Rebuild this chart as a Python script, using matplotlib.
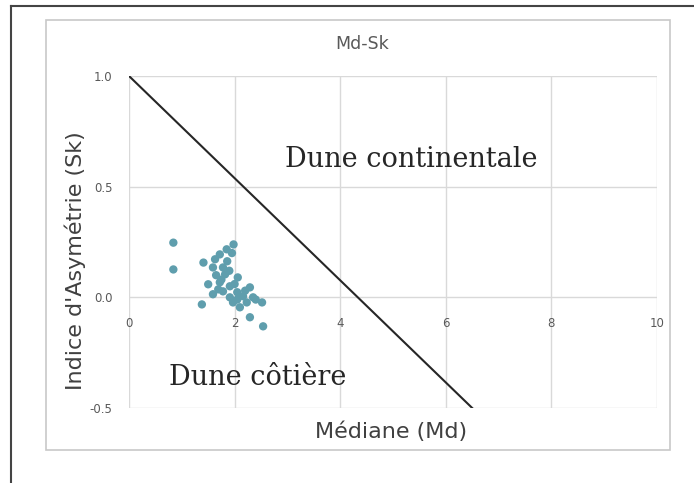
import matplotlib.pyplot as plt
from matplotlib.patches import Rectangle
from matplotlib.lines import Line2D

# Md / Sk values
md = [0.84, 0.84, 1.98, 1.85, 1.72, 1.63, 1.41, 1.59, 1.78, 1.82, 2.06, 1.50,
      1.72, 1.91, 2.29, 1.59, 1.78, 2.05, 2.16, 2.35, 1.38, 1.97, 2.23, 2.52,
      2.10, 2.29, 2.54, 1.91, 1.69, 1.86, 1.95, 1.75, 2.00, 2.20, 1.65, 2.40,
      2.05, 1.90]
sk = [0.247, 0.126, 0.239, 0.217, 0.194, 0.172, 0.157, 0.135, 0.135, 0.104,
      0.090, 0.059, 0.068, 0.050, 0.045, 0.014, 0.027, 0.023, 0.005, 0.000,
      -0.032, -0.023, -0.023, -0.023, -0.045, -0.090, -0.131, 0.000, 0.036,
      0.163, 0.200, 0.080, 0.060, 0.030, 0.100, -0.010, -0.010, 0.120]

# limit line between the two fields
line_x = [0, 6.5]
line_y = [1.0, -0.5]

fig = plt.figure(figsize=(6.94, 4.83), dpi=100)
W, H = 694, 483

# screenshot border + chart box
fig.add_artist(Line2D([11/W, 11/W], [0, 1-6/H], color='#444444', lw=1.5))
fig.add_artist(Line2D([11/W, 1], [1-6/H, 1-6/H], color='#444444', lw=1.5))
fig.add_artist(Rectangle((46/W, 1-450/H), (670-46)/W, (450-20)/H,
                         fill=False, ec='#c8c8c8', lw=1.2))

ax = fig.add_axes([129/W, 1-408/H, (657-129)/W, (408-76)/H])
ax.set_xlim(0, 10)
ax.set_ylim(-0.5, 1.0)
ax.set_xticks([0, 2, 4, 6, 8, 10])
ax.set_yticks([-0.5, 0.0, 0.5, 1.0])
ax.set_yticklabels(['-0.5', '0.0', '0.5', '1.0'])
ax.grid(True, color='#d9d9d9', lw=1)
ax.set_axisbelow(True)
for s in ax.spines.values():
    s.set_visible(False)
ax.spines['bottom'].set_position(('data', 0))
ax.tick_params(length=0, labelsize=8.5, colors='#595959')
ax.tick_params(axis='y', pad=12)
ax.tick_params(axis='x', pad=14)

ax.plot(line_x, line_y, color='#262626', lw=1.5, zorder=3)
ax.scatter(md, sk, s=36, color='#5f9ead', edgecolors='none', zorder=4)

ax.text(5.34, 0.59, 'Dune continentale', family='DejaVu Serif', fontsize=19.5,
        color='#262626', ha='center', va='baseline')
ax.text(2.44, -0.395, 'Dune côtière', family='DejaVu Serif', fontsize=19.5,
        color='#262626', ha='center', va='baseline')

fig.text(362/W, 1-44/H, 'Md-Sk', ha='center', va='center', fontsize=12.5,
         color='#595959')
fig.text(391/W, 1-432/H, 'Médiane (Md)', ha='center', va='center',
         fontsize=16, color='#404040')
fig.text(75/W, 1-261/H, "Indice d'Asymétrie (Sk)", ha='center', va='center',
         rotation=90, fontsize=16, color='#404040')

fig.savefig('out.png', dpi=100)
